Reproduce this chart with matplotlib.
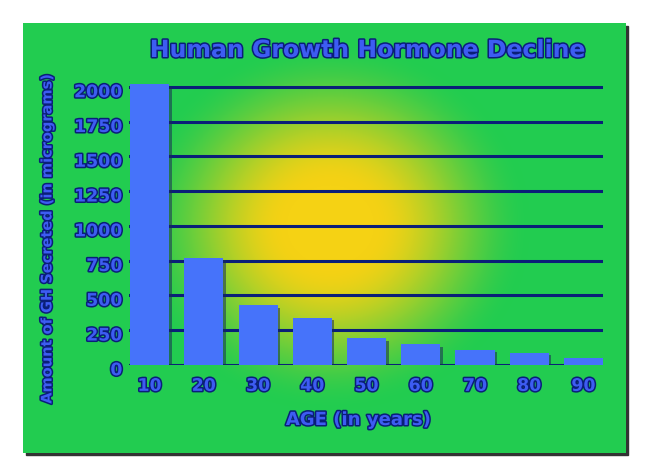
import matplotlib
matplotlib.use("Agg")
import matplotlib.pyplot as plt
import matplotlib.patheffects as pe
from matplotlib.patches import Rectangle
from matplotlib.transforms import offset_copy
import numpy as np

# data
ages = ['10', '20', '30', '40', '50', '60', '70', '80', '90']
gh_amount = [2020, 770, 431, 340, 192, 149, 108, 88, 48]
yticks = [0, 250, 500, 750, 1000, 1250, 1500, 1750, 2000]
ytick_labels = ['0', '250', '500', '750', '1000', '1250', '1500', '1750', '2000']

green = '#22cc50'
yellow = '#f5d214'
bar_col = '#4673fa'
navy = '#0a1f78'
txt_col = '#3d5cf2'

W, H = 650, 475
fig = plt.figure(figsize=(6.5, 4.75), dpi=100)
fig.patch.set_facecolor('white')

# background panel with radial yellow glow
bg = fig.add_axes([0, 0, 1, 1])
bg.set_xlim(0, W)
bg.set_ylim(H, 0)
bg.axis('off')
bg.add_patch(Rectangle((26, 26), 602, 429, color='#333333', zorder=0))
gx, gy = np.meshgrid(np.arange(23, 626), np.arange(23, 453))
r = np.sqrt(((gx - 330) / 1.08) ** 2 + (gy - 225) ** 2)
t = np.clip((r - 40) / 145, 0, 1)
t = t * t * (3 - 2 * t)
c1 = np.array(matplotlib.colors.to_rgb(yellow))
c2 = np.array(matplotlib.colors.to_rgb(green))
img = c1[None, None, :] * (1 - t[..., None]) + c2[None, None, :] * t[..., None]
bg.imshow(img, extent=(23, 626, 453, 23), zorder=1, aspect='auto')

outline = [pe.Stroke(linewidth=2.2, foreground=navy), pe.Normal()]

ax = fig.add_axes([129 / W, 1 - 365 / H, (603 - 129) / W, 285 / H])
ax.patch.set_alpha(0)
x = np.arange(len(ages))
ax.set_xlim(-0.38, 8.36)
ax.set_ylim(0, 2050)

for yv in yticks:
    ax.axhline(yv, color=navy, lw=2.2, zorder=1)

shadow = offset_copy(ax.transData, fig=fig, x=2.5, y=-2.5, units='dots')
ax.bar(x, gh_amount, 0.72, color='#1a2a55', alpha=0.55, transform=shadow, zorder=2)
ax.bar(x, gh_amount, 0.72, color=bar_col, zorder=3)

for s in ax.spines.values():
    s.set_visible(False)
ax.set_xticks([])
ax.set_yticks([])

for xi, lab in zip(x, ages):
    ax.text(xi, -150, lab, ha='center', va='center', fontsize=12.5, fontweight='bold',
            color=txt_col, path_effects=outline)
for yv, lab in zip(yticks, ytick_labels):
    ax.text(-0.5, yv - 38, lab, ha='right', va='center', fontsize=12.5, fontweight='bold',
            color=txt_col, path_effects=outline)

fig.text(368 / W, 1 - 50 / H, 'Human Growth Hormone Decline', ha='center', va='center',
         fontsize=17, fontweight='bold', color=txt_col, path_effects=outline)
fig.text(358 / W, 1 - 420 / H, 'AGE (in years)', ha='center', va='center',
         fontsize=13, fontweight='bold', color=txt_col, path_effects=outline)
fig.text(47 / W, 1 - 238 / H, 'Amount of GH Secreted (in micrograms)', ha='center', va='center',
         rotation=90, fontsize=10.5, fontweight='bold', color=txt_col, path_effects=outline)

fig.savefig('out.png', dpi=100)
